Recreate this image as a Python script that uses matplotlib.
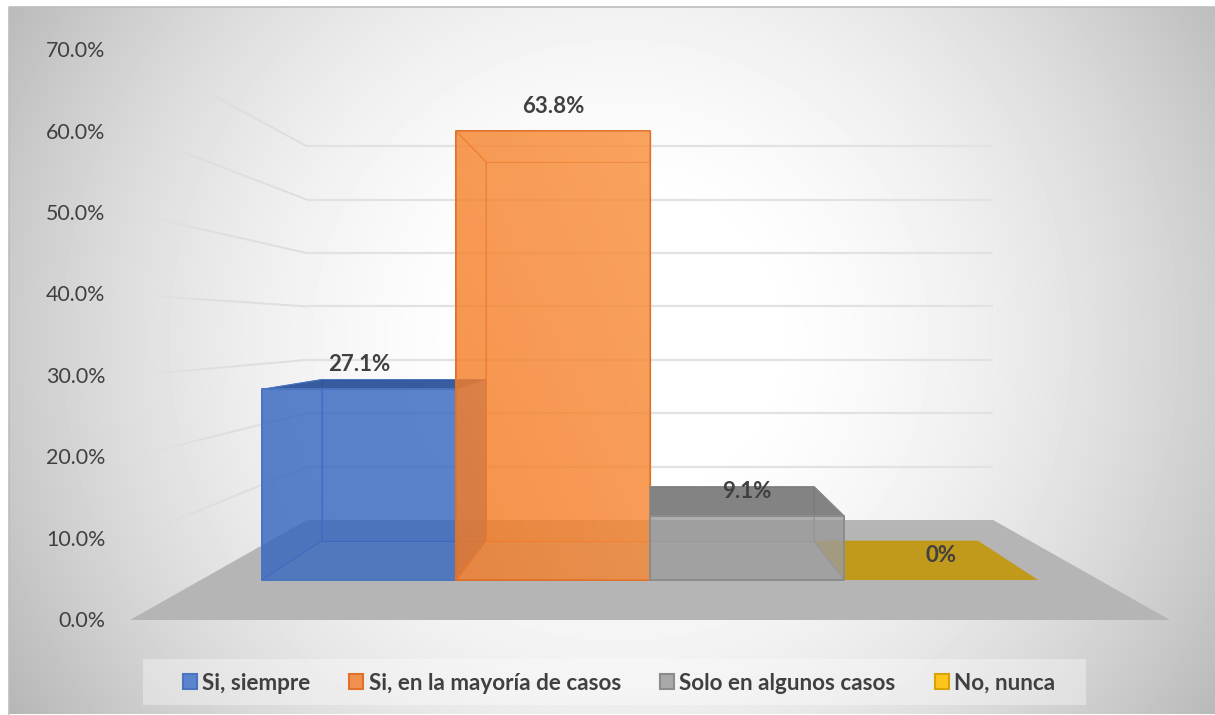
import numpy as np
import matplotlib
matplotlib.use("Agg")
import matplotlib.pyplot as plt
from matplotlib.collections import LineCollection
from matplotlib.patches import Patch, Polygon, Rectangle

categories = ["Si, siempre", "Si, en la mayoría de casos", "Solo en algunos casos", "No, nunca"]
values = [27.1, 63.8, 9.1, 0]
value_labels = ["27.1%", "63.8%", "9.1%", "0%"]
ticks = [0, 10, 20, 30, 40, 50, 60, 70]
tick_labels = ["0.0%", "10.0%", "20.0%", "30.0%", "40.0%", "50.0%", "60.0%", "70.0%"]

face_colors = [(50, 101, 191), (245, 120, 32), (155, 155, 155), (255, 192, 0)]
edge_colors = ["#4a74c2", "#e0702a", "#8c8c8c", "#d9a300"]
legend_colors = ["#5b84cf", "#f0904f", "#a9a9a9", "#ffc51f"]

W, H = 1215, 715
TEXT = "#404040"

# perspective of the 3d excel chart, k = 1 is the front of the floor
HORIZON = 326
CENTER = 650
K_FRONT, K_BAR, K_BARBACK, K_WALL = 1.0, 0.864, 0.73, 0.66
WALL_SCALE = 5.34
BAR_U = 0.432


def project(u, value, k):
    x = CENTER + k*520*u
    y = HORIZON + k*294 - k*8.14*value
    return x, y


def rgb(c, shade=1.0):
    return tuple(v/255*shade for v in c)


def face(ax, pts, color, alpha, edge=None, lw=0.0, z=5):
    ax.add_patch(Polygon(pts, closed=True, facecolor=(*color, alpha), edgecolor=edge or "none",
                         linewidth=lw, joinstyle="round", zorder=z))


def draw_bar(ax, i, value, z):
    u0 = -0.864 + i*BAR_U
    u1 = u0 + BAR_U
    c = rgb(face_colors[i])
    e = edge_colors[i]
    fl0, fl1 = project(u0, 0, K_BAR), project(u1, 0, K_BAR)
    ft0, ft1 = project(u0, value, K_BAR), project(u1, value, K_BAR)
    bl0, bl1 = project(u0, 0, K_BARBACK), project(u1, 0, K_BARBACK)
    bt0, bt1 = project(u0, value, K_BARBACK), project(u1, value, K_BARBACK)

    top_seen = ft0[1] > HORIZON
    top_c = rgb(face_colors[i], 0.77) if top_seen else c
    top_a = 0.85 if top_seen else 0.5

    # a zero bar is only a flat patch on the floor, the grey bar goes over it
    if value == 0:
        face(ax, [fl0, fl1, bl1, bl0], top_c, top_a, z=4)
        return

    face(ax, [bl0, bl1, bt1, bt0], c, 0.5, e, 0.6, z)
    face(ax, [fl0, fl1, bl1, bl0], c, 0.4, None, 0.0, z)
    face(ax, [fl0, ft0, bt0, bl0], c, 0.5, e, 0.8, z)
    face(ax, [fl1, ft1, bt1, bl1], c, 0.5, e, 0.8, z)
    face(ax, [ft0, ft1, bt1, bt0], top_c, top_a, e, 0.8, z)
    face(ax, [fl0, fl1, ft1, ft0], c, 0.6, e, 1.4, z)

    # the orange bar is lit towards its upper right corner
    if i == 1:
        yy, xx = np.mgrid[0:1:60j, 0:1:60j]
        shine = np.zeros((60, 60, 4))
        shine[..., :3] = (1.0, 0.8, 0.55)
        shine[..., 3] = 0.3*(xx*0.5 + (1 - yy)*0.5)
        poly = Polygon([fl0, fl1, ft1, ft0], closed=True, transform=ax.transData)
        im = ax.imshow(shine, extent=(fl0[0], fl1[0], fl0[1], ft0[1]), aspect="auto", zorder=z)
        im.set_clip_path(poly)


fig = plt.figure(figsize=(W/100, H/100), dpi=100)
ax = fig.add_axes([0, 0, 1, 1])
plt.rcParams["font.family"] = ["Lato", "DejaVu Sans"]

# radial background
yy, xx = np.mgrid[7:714, 9:1215]
bg = np.clip(258 - 53*(((xx - 620)/600)**2 + ((yy - 340)/586)**2), 0, 255)
ax.imshow(bg, extent=(9, 1215, 714, 7), cmap="gray", vmin=0, vmax=255, aspect="auto", zorder=0)
ax.plot([9, 9, 1215], [714, 7, 7], color="#bdbdbd", lw=1.2, zorder=1)

# floor and walls
face(ax, [project(-1, 0, K_FRONT), project(1, 0, K_FRONT), project(1, 0, K_WALL), project(-1, 0, K_WALL)],
     rgb((181, 181, 181)), 1.0, z=2)
for t in ticks[1:]:
    x0, y0 = project(-1, 0, K_WALL)
    x1 = project(1, 0, K_WALL)[0]
    y0 = y0 - t*WALL_SCALE
    ax.plot([x0, x1], [y0, y0], color="#e2e2e2", lw=1.6, zorder=2, solid_capstyle="butt")
    xf, yf = project(-1, t, K_FRONT)
    xs = np.linspace(xf, x0, 31)
    ys = np.linspace(yf, y0, 31)
    segs = [[(xs[j], ys[j]), (xs[j+1], ys[j+1])] for j in range(30)]
    cols = [(0.87, 0.87, 0.87, min(1.0, j/12)) for j in range(30)]
    ax.add_collection(LineCollection(segs, colors=cols, linewidths=1.4, zorder=2))

for i, v in enumerate(values):
    draw_bar(ax, i, v, 5 + i)

for i, v in enumerate(values):
    x, y = project(-0.864 + (i + 0.5)*BAR_U, v, K_BAR)
    ax.annotate(value_labels[i], (x, y), xytext=(0, 18), textcoords="offset points", ha="center", va="center",
                fontsize=16, fontweight="bold", color=TEXT, zorder=20)

for t, lab in zip(ticks, tick_labels):
    ax.text(105.5, project(-1, t, K_FRONT)[1] + 1, lab, ha="right", va="center", fontsize=15.4, color=TEXT, zorder=20)

# legend
ax.add_patch(Rectangle((143, 659), 943, 46, facecolor=(1, 1, 1, 0.35), edgecolor="none", zorder=3))
handles = [Patch(facecolor=legend_colors[i], edgecolor=edge_colors[i], linewidth=1.5, label=categories[i])
           for i in range(len(categories))]
leg = ax.legend(handles=handles, ncol=4, loc="center", bbox_to_anchor=(619, 683), bbox_transform=ax.transData,
                frameon=False, prop={"weight": "bold", "size": 16.2}, handlelength=0.62,
                handleheight=0.62, handletextpad=0.24, columnspacing=1.73, borderpad=0)
leg.set_zorder(20)
for txt in leg.get_texts():
    txt.set_color(TEXT)

ax.set_xlim(0, W)
ax.set_ylim(H, 0)
ax.axis("off")
fig.savefig("out.png", dpi=100, facecolor="white")
